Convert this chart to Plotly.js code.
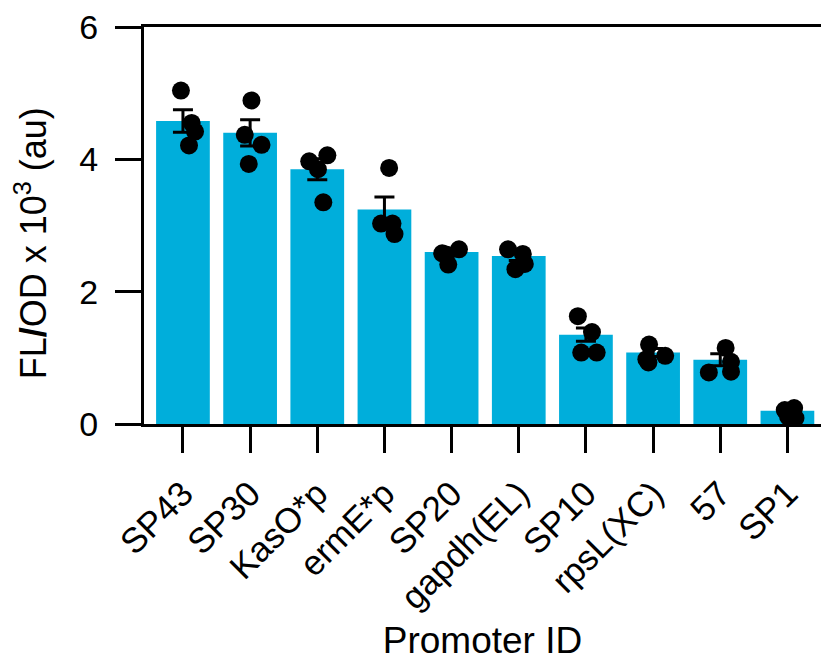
<!DOCTYPE html>
<html>
<head>
<meta charset="utf-8">
<script src="https://cdn.plot.ly/plotly-3.0.1.min.js"></script>
<style>html,body{margin:0;padding:0;background:#fff;}#chart{width:821px;height:661px;}</style>
</head>
<body>
<div id="chart"></div>
<script>
// ---- data ----
const categories = ["SP43","SP30","KasO*p","ermE*p","SP20","gapdh(EL)","SP10","rpsL(XC)","57","SP1"];
const means = [4.58, 4.40, 3.85, 3.24, 2.60, 2.54, 1.35, 1.08, 0.97, 0.20];
const sem   = [0.17, 0.20, 0.16, 0.19, 0.05, 0.07, 0.10, 0.06, 0.09, 0.04];
const rep1 = [5.04, 4.89, 3.97, 3.87, 2.58, 2.64, 1.63, 1.20, 1.15, 0.21];
const rep2 = [4.55, 4.37, 4.06, 3.03, 2.64, 2.57, 1.39, 1.03, 0.94, 0.24];
const rep3 = [4.42, 4.22, 3.85, 3.03, 2.41, 2.42, 1.08, 0.98, 0.79, 0.11];
const rep4 = [4.21, 3.93, 3.35, 2.87, 2.56, 2.34, 1.08, 0.93, 0.78, 0.09];
// horizontal jitter of each replicate dot (category units)
const jit1 = [-0.03, 0.02, -0.12, 0.07, -0.14, -0.16, -0.12, -0.06, 0.08, -0.04];
const jit2 = [0.13, -0.08, 0.15, -0.05, 0.11, 0.06, 0.09, 0.18, 0.16, 0.10];
const jit3 = [0.18, 0.17, 0.01, 0.12, -0.05, 0.09, -0.07, -0.10, 0.16, 0.01];
const jit4 = [0.09, -0.02, 0.09, 0.15, -0.08, -0.05, 0.16, -0.07, -0.17, 0.12];
const yTitle = "FL<b>/</b>OD x 10<sup>3</sup> (au)";
const xTitle = "Promoter ID";

const idx = categories.map((_, i) => i);
const FONT = "Liberation Sans, Arial, Helvetica, sans-serif";

const traces = [{
  type: "bar", x: idx, y: means,
  marker: {color: "rgb(0,174,219)", line: {width: 0}},
  error_y: {type: "data", array: sem, visible: true, color: "#000", thickness: 3, width: 10},
  hoverinfo: "skip"
}];
[[rep1, jit1],[rep2, jit2],[rep3, jit3],[rep4, jit4]].forEach(([r, j]) => {
  traces.push({
    type: "scatter", mode: "markers",
    x: idx.map(i => i + j[i]), y: r,
    marker: {color: "#000", size: 18, line: {width: 0}},
    hoverinfo: "skip"
  });
});

const layout = {
  width: 821, height: 661,
  margin: {l: 144, r: 0, t: 27, b: 237},
  paper_bgcolor: "#fff", plot_bgcolor: "#fff",
  showlegend: false,
  bargap: 0.2,
  font: {family: FONT, color: "#000", size: 35},
  xaxis: {
    range: [-0.58, 9.5],
    tickmode: "array", tickvals: idx, ticktext: categories,
    tickangle: -45,
    showgrid: false, zeroline: false,
    showline: true, linecolor: "#000", linewidth: 3, mirror: true,
    ticks: "outside", ticklen: 26, tickwidth: 3, tickcolor: "#000",
    ticklabelstandoff: 6,
    tickfont: {size: 35, family: FONT},
    automargin: false,
    title: {text: xTitle, font: {size: 37, family: FONT}, standoff: 14}
  },
  yaxis: {
    range: [0, 6], tickvals: [0, 2, 4, 6],
    showgrid: false, zeroline: false,
    showline: true, linecolor: "#000", linewidth: 3,
    ticks: "outside", ticklen: 26, tickwidth: 3, tickcolor: "#000",
    ticklabelstandoff: 10,
    tickfont: {size: 34, family: FONT},
    automargin: false
  },
  annotations: [{
    text: yTitle, textangle: -90, showarrow: false,
    xref: "paper", yref: "paper", x: 0, y: 0.455,
    xanchor: "right", yanchor: "middle", xshift: -88,
    font: {size: 36, family: FONT, color: "#000"}
  }]
};

Plotly.newPlot("chart", traces, layout, {displayModeBar: false, staticPlot: true});
</script>
</body>
</html>
